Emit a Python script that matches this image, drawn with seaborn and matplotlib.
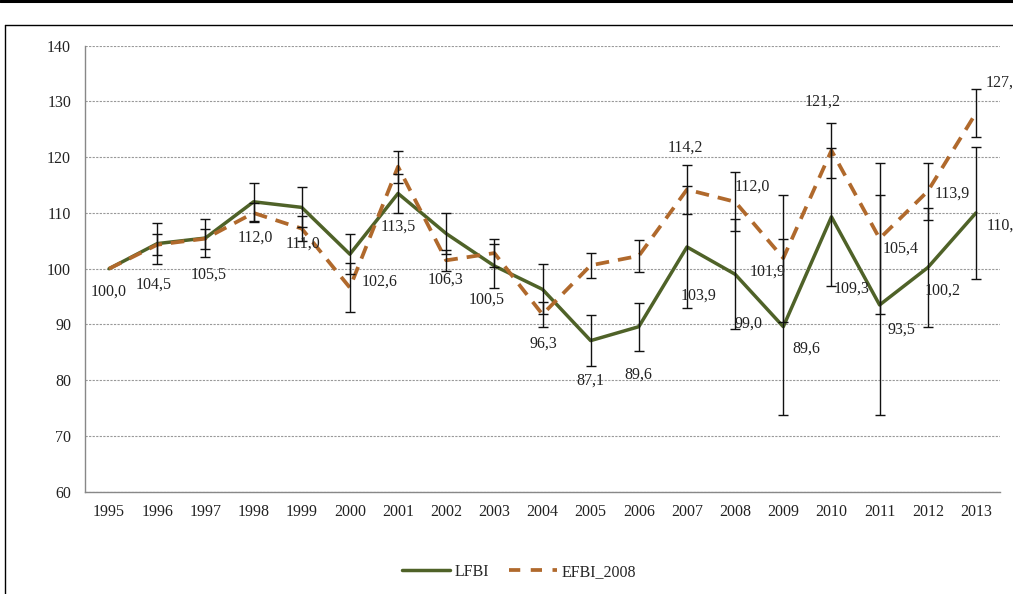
import numpy as np
import pandas as pd
import matplotlib
matplotlib.use('Agg')
import matplotlib.pyplot as plt
from matplotlib.lines import Line2D
import seaborn as sns

years = ['1995', '1996', '1997', '1998', '1999', '2000', '2001', '2002', '2003', '2004',
         '2005', '2006', '2007', '2008', '2009', '2010', '2011', '2012', '2013']
lfbi = [100.0, 104.5, 105.5, 112.0, 111.0, 102.6, 113.5, 106.3, 100.5, 96.3,
        87.1, 89.6, 103.9, 99.0, 89.6, 109.3, 93.5, 100.2, 110.0]
efbi = [100.0, 104.3, 105.4, 110.0, 107.2, 96.6, 118.3, 101.5, 102.8, 91.8,
        100.6, 102.3, 114.2, 112.0, 101.9, 121.2, 105.4, 113.9, 127.9]
lfbi_err = [0, 3.65, 3.4, 3.4, 3.6, 3.6, 3.5, 3.7, 4.0, 4.5,
            4.6, 4.3, 10.9, 9.9, 15.8, 12.4, 19.7, 10.6, 11.9]
efbi_err = [0, 1.85, 1.8, 1.7, 2.2, 4.35, 2.9, 1.9, 2.5, 2.2,
            2.3, 2.9, 4.4, 5.3, 11.4, 4.9, 13.6, 5.1, 4.3]
efbi_labelled = ['2007', '2008', '2009', '2010', '2011', '2012', '2013']

# label offsets in pixels (dx, dy downwards), as placed in the original
lfbi_offsets = [(0, 23), (-4, 41), (3, 37), (2, 36), (1, 36), (30, 27), (0, 33), (-1, 46),
                (-8, 34), (1, 54), (0, 40), (-1, 48), (12, 49), (13, 49), (23, 22),
                (20, 72), (22, 25), (15, 23), (28, 13)]
efbi_offsets = [(-2, -42), (17, -15), (-16, 14), (-9, -49), (21, 10), (25, 2), (28, -31)]

df = pd.DataFrame({'year': years, 'pos': np.arange(len(years)),
                   'LFBI': lfbi, 'EFBI_2008': efbi})

sns.set_style('white')
plt.rcParams['font.family'] = ['Liberation Serif', 'DejaVu Serif']

green = '#4F6228'
orange = '#B0692C'
fs = 11.5

fig = plt.figure(figsize=(10.13, 5.94), dpi=100)
ax = fig.add_axes([85 / 1013, 1 - 491.7 / 594, 915 / 1013, 446 / 594])

sns.lineplot(data=df, x='pos', y='LFBI', ax=ax, color=green, lw=2.5, label='LFBI', zorder=3)
sns.lineplot(data=df, x='pos', y='EFBI_2008', ax=ax, color=orange, lw=2.7,
             label='EFBI_2008', zorder=4)
ax.lines[-1].set_linestyle((0, (3.6, 2.4)))

ax.errorbar(df['pos'][1:], df['LFBI'][1:], yerr=lfbi_err[1:], fmt='none',
            ecolor='#111111', elinewidth=1, capsize=3.3, capthick=1, zorder=5)
ax.errorbar(df['pos'][1:], df['EFBI_2008'][1:], yerr=efbi_err[1:], fmt='none',
            ecolor='#111111', elinewidth=1, capsize=3.3, capthick=1, zorder=5)

def fmt(v):
    return f'{v:.1f}'.replace('.', ',')

for i, v in enumerate(lfbi):
    dx, dy = lfbi_offsets[i]
    ax.annotate(fmt(v), (i, v), xytext=(dx, -dy), textcoords='offset pixels',
                ha='center', va='center', fontsize=fs, color='#222222',
                annotation_clip=False, zorder=6)
for k, y in enumerate(efbi_labelled):
    i = years.index(y)
    dx, dy = efbi_offsets[k]
    ax.annotate(fmt(efbi[i]), (i, efbi[i]), xytext=(dx, -dy), textcoords='offset pixels',
                ha='center', va='center', fontsize=fs, color='#222222',
                annotation_clip=False, zorder=6)

ax.set_xlim(-0.5, len(years) - 0.5)
ax.set_ylim(60, 140)
ax.set_yticks(np.arange(60, 141, 10))
ax.set_xticks(df['pos'])
ax.set_xticklabels(years)
ax.set_xticks(np.arange(-0.5, len(years), 1), minor=True)
ax.set_xlabel('')
ax.set_ylabel('')

ax.grid(axis='y', color='#999999', linestyle=(0, (2, 1.2)), linewidth=0.8)
ax.set_axisbelow(True)
for s in ['top', 'right']:
    ax.spines[s].set_visible(False)
for s in ['left', 'bottom']:
    ax.spines[s].set_color('#888888')
    ax.spines[s].set_linewidth(1)

ax.tick_params(axis='x', which='major', length=0, pad=9, labelsize=fs, labelcolor='#222222')
ax.tick_params(axis='x', which='minor', length=4, width=1, color='#888888', direction='out')
ax.tick_params(axis='y', which='major', length=4, width=1, color='#888888', direction='out',
               pad=6, labelsize=fs, labelcolor='#222222')

ax.get_legend().remove()
handles = [Line2D([], [], color=green, lw=2.5),
           Line2D([], [], color=orange, lw=2.7, linestyle=(0, (3.0, 2.8)))]
fig.legend(handles, ['LFBI', 'EFBI_2008'], loc='center', bbox_to_anchor=(519 / 1013, 1 - 572 / 594),
           ncol=2, frameon=False, fontsize=fs, handlelength=3.0, handletextpad=0.3,
           columnspacing=1.2)

# chart frame as in the screenshot
fig.add_artist(Line2D([0, 1], [1 - 1 / 594, 1 - 1 / 594], color='black', lw=2.2))
fig.add_artist(Line2D([5 / 1013, 1], [1 - 25 / 594, 1 - 25 / 594], color='black', lw=1))
fig.add_artist(Line2D([5 / 1013, 5 / 1013], [0, 1 - 25 / 594], color='black', lw=1))

fig.savefig('out.png', dpi=100)
